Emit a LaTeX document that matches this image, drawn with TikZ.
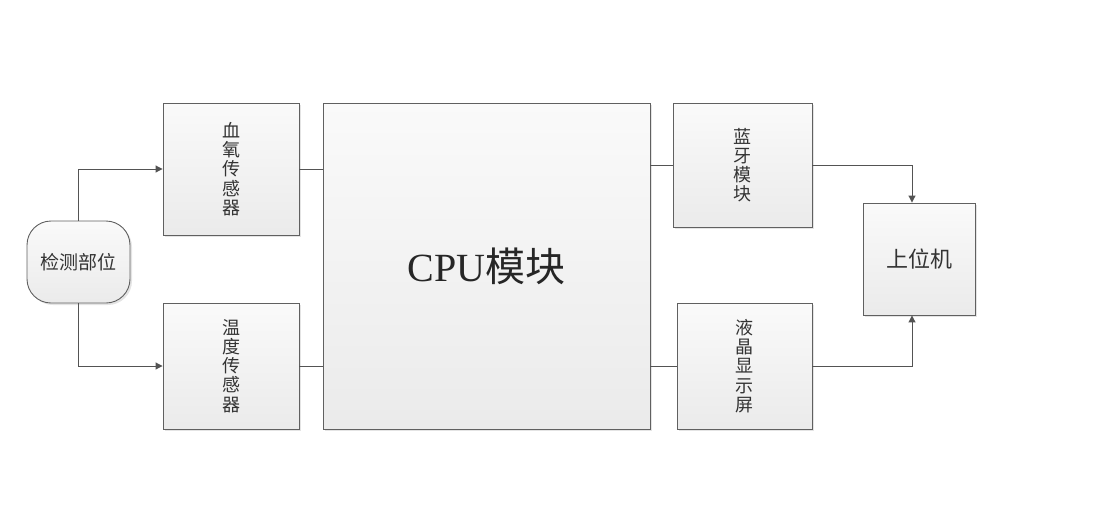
\documentclass[tikz,border=0pt]{standalone}
\usepackage{fontspec}
\setmainfont{Liberation Serif}
\newfontfamily\cjk{Noto Sans CJK SC}
\usetikzlibrary{arrows.meta,shadows,calc}
\tikzset{
  blk/.style={draw=gray!75!black, line width=0.9pt, inner sep=0pt,
    top color=gray!4, bottom color=gray!16,
    drop shadow={shadow xshift=2pt, shadow yshift=-2pt, fill=gray!35, opacity=0.6}},
  vtext/.style={align=center, font=\cjk\fontsize{18}{19.2}\selectfont, text=black!80},
  link/.style={draw=gray!65!black, line width=1pt},
  arr/.style={link, -{Triangle[length=7pt,width=7pt]}}
}
\begin{document}
\begin{tikzpicture}[x=1pt,y=-1pt]
\useasboundingbox (0,0) rectangle (1096,531);
\node[blk, rounded corners=24pt, minimum width=103pt, minimum height=82pt,
  font=\cjk\fontsize{19}{20}\selectfont, text=black!80] (det) at (78.5,262) {检测部位};
\node[blk, minimum width=136pt, minimum height=132pt, vtext] (s1) at (231,169) {血\\氧\\传\\感\\器};
\node[blk, minimum width=136pt, minimum height=126pt, vtext] (s2) at (231,366) {温\\度\\传\\感\\器};
\node[blk, minimum width=327pt, minimum height=326pt, text=black!85] (cpu) at (486.5,266)
  {\fontsize{40}{44}\selectfont CPU{\cjk 模块}};
\node[blk, minimum width=139pt, minimum height=124pt, vtext] (bt) at (742.5,165) {蓝\\牙\\模\\块};
\node[blk, minimum width=135pt, minimum height=126pt, vtext] (lcd) at (744.5,366) {液\\晶\\显\\示\\屏};
\node[blk, minimum width=112pt, minimum height=112pt, font=\cjk\fontsize{22}{24}\selectfont, text=black!80] (host) at (919,259) {上位机};
\draw[arr] (det.north) |- (s1.west);
\draw[arr] (det.south) |- (s2.west);
\draw[link] (s1.east) -- (s1.east -| cpu.west);
\draw[link] (s2.east) -- (s2.east -| cpu.west);
\draw[link] (bt.west) -- (bt.west -| cpu.east);
\draw[link] (lcd.west) -- (lcd.west -| cpu.east);
\draw[arr] (bt.east) -| ([xshift=-7pt]host.north);
\draw[arr] (lcd.east) -| ([xshift=-7pt]host.south);
\end{tikzpicture}
\end{document}
